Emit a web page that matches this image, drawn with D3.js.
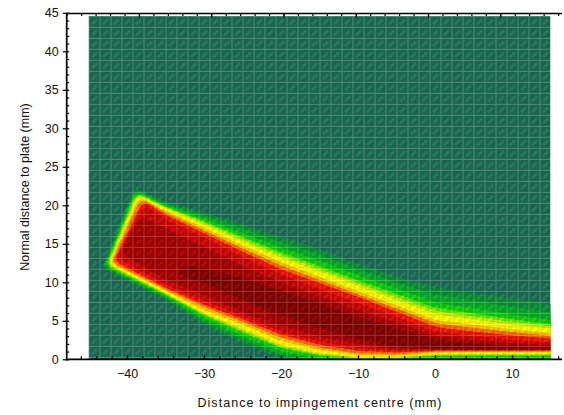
<!DOCTYPE html>
<html>
<head>
<meta charset="utf-8">
<script src="https://cdn.jsdelivr.net/npm/d3@7"></script>
<style>
  html, body { margin: 0; padding: 0; background: #fff; }
  text { font-family: "Liberation Sans", Arial, sans-serif; fill: #111; }
</style>
</head>
<body>
<div id="chart"></div>
<script>
// Distance along the plate (mm), stations shared by all contour outlines
const stations = [-35, -30, -25, -20, -15, -10, -5, 0, 5, 10, 15];

// Contour outlines, outermost first
const bandColors = ["#0c8f38", "#06ad26", "#0fd00a", "#6cea00", "#c6f400", "#ffff00",
                    "#ffc400", "#ff6a00", "#f01208", "#cc0606", "#a80000", "#850000"];
const tipTop = [[-39.1, 22.3], [-39.0, 22.1], [-38.9, 21.9], [-38.8, 21.7], [-38.7, 21.5], [-38.6, 21.35],
                [-38.4, 21.1], [-38.2, 20.9], [-37.9, 20.6], [-37.7, 20.1], [-38.4, 18.6]];
const tipBottom = [[-43.3, 11.9], [-43.1, 12.0], [-42.9, 12.1], [-42.7, 12.2], [-42.5, 12.3], [-42.4, 12.4],
                   [-42.2, 12.5], [-42.0, 12.6], [-41.7, 12.8], [-41.3, 13.2], [-40.8, 13.8]];
const upper = [
  [20.45, 19.1, 17.5, 15.9, 14.3, 12.4, 10.8, 9.4, 8.65, 7.9, 7.25],
  [20.25, 18.7, 17.0, 15.2, 13.6, 11.7, 10.0, 8.4, 7.65, 6.8, 6.05],
  [20.05, 18.3, 16.4, 14.5, 12.8, 10.95, 9.2, 7.4, 6.65, 5.8, 5.1],
  [19.85, 17.95, 15.9, 13.9, 12.1, 10.25, 8.5, 6.7, 5.95, 5.2, 4.55],
  [19.75, 17.75, 15.6, 13.55, 11.75, 9.9, 8.1, 6.3, 5.55, 4.85, 4.3],
  [19.6, 17.5, 15.3, 13.2, 11.4, 9.55, 7.7, 5.9, 5.15, 4.5, 4.0],
  [19.3, 17.1, 14.8, 12.6, 10.7, 8.85, 7.0, 5.1, 4.5, 3.9, 3.4],
  [19.05, 16.75, 14.4, 12.2, 10.3, 8.45, 6.6, 4.7, 4.1, 3.55, 3.05],
  [18.75, 16.4, 14.0, 11.7, 9.9, 8.1, 6.2, 4.2, 3.6, 3.1, 2.7],
  [18.2, 15.8, 13.3, 11.0, 9.1, 7.3, 5.5, 3.6, 3.0, 2.5, 2.2],
  [17.0, 14.6, 12.1, 10.0, 8.2, 6.4, 4.8, 3.1, 2.5, 2.1, 1.8]
];
const lower = [
  [7.8, 4.5, 2.1, 0.25, -0.5, -0.5, -0.5, -0.5, -0.5, -0.5, -0.5],
  [8.0, 4.9, 2.6, 0.6, -0.4, -0.4, -0.4, 0, 0, 0, 0],
  [8.2, 5.3, 3.0, 1.0, 0, -0.2, -0.2, 0.15, 0.2, 0.2, 0.2],
  [8.4, 5.7, 3.5, 1.45, 0.5, 0.1, 0.1, 0.45, 0.45, 0.45, 0.45],
  [8.5, 5.85, 3.75, 1.65, 0.65, 0.2, 0.2, 0.55, 0.6, 0.6, 0.6],
  [8.6, 6.0, 4.0, 1.85, 0.8, 0.3, 0.35, 0.65, 0.7, 0.7, 0.7],
  [8.9, 6.4, 4.5, 2.4, 1.2, 0.55, 0.5, 0.85, 0.9, 0.9, 0.9],
  [9.1, 6.8, 4.9, 2.8, 1.5, 0.75, 0.65, 1.0, 1.0, 1.0, 1.0],
  [9.3, 7.1, 5.2, 3.2, 1.9, 1.1, 0.9, 1.1, 1.1, 1.1, 1.1],
  [9.7, 7.6, 5.6, 3.6, 2.3, 1.5, 1.1, 1.2, 1.2, 1.2, 1.2],
  [10.3, 8.35, 6.1, 4.4, 3.0, 2.0, 1.4, 1.3, 1.25, 1.25, 1.25]
];
// Darkest core only exists from about -33 mm on
const coreX = [-33, -30, -25, -20, -15, -10, -5, 0, 5, 10, 15];
const coreUpper = [12.4, 11.8, 10.6, 8.9, 7.3, 5.5, 4.0, 2.6, 2.0, 1.7, 1.5];
const coreLower = [10.8, 9.9, 7.7, 5.7, 4.0, 2.6, 1.7, 1.35, 1.3, 1.3, 1.3];

const xLabels = [-40, -30, -20, -10, 0, 10];
const xMinor = d3.range(-46, 17, 2);
const yLabels = [0, 5, 10, 15, 20, 25, 30, 35, 40, 45];
const yMinor = d3.range(0, 46, 1);
const topMinor = d3.range(-50, 19, 2);
const topMajor = [-40, -30, -20, -10, 0, 10];

const width = 564, height = 415;
const x = d3.scaleLinear().domain([0, 10]).range([435, 512]);
const y = d3.scaleLinear().domain([0, 45]).range([359.3, 12.8]);
const xTop = d3.scaleLinear().domain([-50, 18.5]).range([66.7, 561.7]);

const svg = d3.select("#chart").append("svg")
  .attr("width", width).attr("height", height)
  .style("display", "block");
const defs = svg.append("defs");

// data window
const x0 = x(-45), x1 = x(15), yTop = y(44.6), yBot = y(0);
defs.append("clipPath").attr("id", "plot")
  .append("rect").attr("x", x0).attr("y", yTop).attr("width", x1 - x0).attr("height", yBot - yTop);

// mesh of the surface: 11px cell with a short dithered diagonal in the middle
const cell = 11;
const mesh = defs.append("pattern").attr("id", "mesh")
  .attr("patternUnits", "userSpaceOnUse")
  .attr("x", x0).attr("y", yTop).attr("width", cell).attr("height", cell);
const px = (i, j, col, op) => mesh.append("rect").attr("x", i).attr("y", j)
  .attr("width", 1).attr("height", 1).attr("fill", col).attr("fill-opacity", op);
for (let i = 0; i < cell; i++) {
  for (let j = 0; j < cell; j++) {
    if (i == 0 || j == 0) px(i, j, "#fff", 0.2);
    else if (Math.abs(i + j - cell) <= 1 && Math.abs(i - j) <= 4) px(i, j, "#fff", (i + j) % 2 ? 0.02 : 0.08);
    else if ((i + j) % 2 == 0) px(i, j, "#000", 0.19);
  }
}

const plot = svg.append("g").attr("clip-path", "url(#plot)");
plot.append("rect").attr("x", x0).attr("y", yTop).attr("width", x1 - x0).attr("height", yBot - yTop)
  .attr("fill", "#1e7058");

// outline with rounded vertices, r per vertex (tips are tight, the rest nearly straight)
function outline(pts, radii) {
  const p = pts.map(d => [x(d[0]), y(d[1])]);
  const n = p.length, path = d3.path();
  path.moveTo((p[n - 1][0] + p[0][0]) / 2, (p[n - 1][1] + p[0][1]) / 2);
  p.forEach((d, i) => {
    const next = p[(i + 1) % n];
    path.arcTo(d[0], d[1], next[0], next[1], radii[i]);
  });
  path.closePath();
  return path.toString();
}

// each band is filled over the previous one
upper.forEach((u, i) => {
  const last = u.length - 1;
  const pts = [tipTop[i]].concat(
    stations.map((s, k) => [s, u[k]]),
    [[17, u[last]], [17, lower[i][last]]],
    stations.map((s, k) => [s, lower[i][k]]).reverse(),
    [tipBottom[i]]
  );
  const radii = pts.map((d, k) => (k == 0 || k == pts.length - 1) ? 7 : (d[0] == 17 ? 0 : 60));
  plot.append("path").attr("d", outline(pts, radii)).attr("fill", bandColors[i]);
});
const coreLast = coreUpper.length - 1;
const core = coreX.map((s, k) => [s, coreUpper[k]]).concat(
  [[17, coreUpper[coreLast]], [17, coreLower[coreLast]]],
  coreX.map((s, k) => [s, coreLower[k]]).reverse()
);
plot.append("path").attr("d", outline(core, core.map(d => d[0] == 17 ? 0 : 8))).attr("fill", bandColors[11]);

plot.append("rect").attr("x", x0).attr("y", yTop).attr("width", x1 - x0).attr("height", yBot - yTop)
  .attr("fill", "url(#mesh)").attr("shape-rendering", "crispEdges");

// axes
const styleAxis = g => {
  g.select(".domain").remove();
  g.selectAll(".tick line").attr("stroke", "#000").attr("stroke-width", 1.2);
  g.selectAll("text").attr("font-size", 12.5).attr("fill", "#111");
};
svg.append("g").attr("transform", `translate(0,${yBot})`)
  .call(d3.axisBottom(x).tickValues(xLabels).tickSize(0).tickPadding(10).tickFormat(d3.format("d"))).call(styleAxis);
svg.append("g").attr("transform", `translate(0,${yBot})`)
  .call(d3.axisTop(x).tickValues(xMinor).tickSize(3).tickFormat("")).call(styleAxis);
svg.append("g").attr("transform", `translate(0,${yBot})`)
  .call(d3.axisTop(x).tickValues(xLabels).tickSize(4).tickFormat("")).call(styleAxis);

svg.append("g").attr("transform", "translate(66.7,0)")
  .call(d3.axisLeft(y).tickValues(yLabels).tickSize(4).tickPadding(4).tickFormat(d3.format("d"))).call(styleAxis);
svg.append("g").attr("transform", "translate(66.7,0)")
  .call(d3.axisRight(y).tickValues(yMinor).tickSize(2.5).tickFormat("")).call(styleAxis);

svg.append("g").attr("transform", "translate(0,13.5)")
  .call(d3.axisBottom(xTop).tickValues(topMinor).tickSize(2.5).tickFormat("")).call(styleAxis);
svg.append("g").attr("transform", "translate(0,13.5)")
  .call(d3.axisBottom(xTop).tickValues(topMajor).tickSize(4).tickFormat("")).call(styleAxis);

const frame = svg.append("g").attr("stroke", "#000").attr("stroke-width", 1.7);
frame.append("line").attr("x1", 66).attr("x2", 562).attr("y1", 13.5).attr("y2", 13.5);
frame.append("line").attr("x1", 66).attr("x2", 562).attr("y1", yBot).attr("y2", yBot);
frame.append("line").attr("x1", 66.7).attr("x2", 66.7).attr("y1", 13).attr("y2", yBot + 1);

svg.append("text").attr("x", 320).attr("y", 406.5).attr("text-anchor", "middle")
  .attr("font-size", 12.5).attr("letter-spacing", 1.05).text("Distance to impingement centre (mm)");
svg.append("text").attr("transform", "translate(29.3,187) rotate(-90)").attr("text-anchor", "middle")
  .attr("font-size", 12.5).text("Normal distance to plate (mm)");
</script>
</body>
</html>
